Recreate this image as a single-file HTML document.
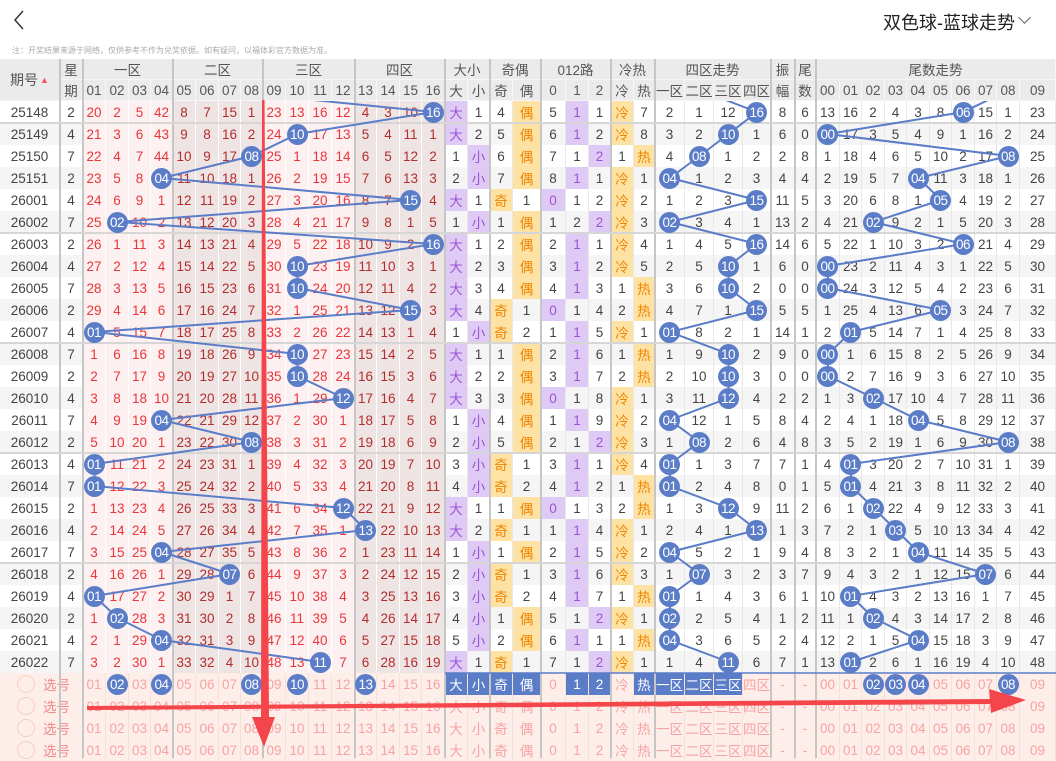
<!DOCTYPE html>
<html><head><meta charset="utf-8">
<style>
*{margin:0;padding:0;box-sizing:border-box}
body{width:1056px;height:758px;overflow:hidden;background:#fff;font-family:"Liberation Sans","Noto Sans CJK SC",sans-serif;color:#444;position:relative}
.top{position:absolute;left:0;top:0;width:1056px;height:40px}
.title{position:absolute;left:883px;top:9px;font-size:18px;color:#222}
.chev{position:absolute;left:1020px;top:13px;width:9px;height:9px;border-right:1px solid #666;border-bottom:1px solid #666;transform:rotate(45deg)}
.note{position:absolute;left:12px;top:45px;font-size:8px;color:#aaa;white-space:nowrap}
.g{display:grid;grid-template-columns:60px 23px 23px 23px 22px 22px 23px 23px 22px 22px 23px 23px 23px 23px 22px 23px 22px 23px 23px 22px 23px 28px 25px 23px 22px 23px 21px 30px 29px 29px 28px 24px 21px 24px 22px 23px 22px 23px 22px 23px 22px 23px 36px}
.hd{position:absolute;left:0;top:59px;width:1056px;grid-auto-rows:21px;background:#ebebeb;color:#555;font-size:13.5px}
.hd span{display:flex;align-items:center;justify-content:center;border-right:1px solid #f6f6f6;border-bottom:1px solid #f6f6f6;white-space:nowrap}
.hd .s2{grid-column:span 2}.hd .s3{grid-column:span 3}.hd .s4{grid-column:span 4}.hd .s10{grid-column:span 10}
.hd .rr{grid-row:span 2;font-size:14px}
.data{position:absolute;left:0;top:101px;width:1056px}
.r{height:22px}
.r i{font-style:normal;display:flex;align-items:center;justify-content:center;font-size:13.5px;border-right:1px solid #e8e8e8;background:#fff;white-space:nowrap}
.r.a i{background:#f5f5f5}
.r i:nth-child(n+3):nth-child(-n+6),.r i:nth-child(n+11):nth-child(-n+14){background:#fdf0f0;color:#e8363b;border-right-color:#fff}
.r i:nth-child(n+7):nth-child(-n+10),.r i:nth-child(n+15):nth-child(-n+18){background:#efe4e4;color:#b32d2d;border-right-color:#fff}
.r i.p{background:#dfcaf5;color:#9a55d0}
.r i.o{background:#fde2a4;color:#f08300}
b{display:block;width:21px;height:21px;border-radius:50%;background:#5b7dc8;color:#fff;font-weight:normal;font-size:13.5px;line-height:21px;text-align:center;position:relative;z-index:3;letter-spacing:-.5px}
.sel{position:absolute;left:0;top:673px;width:1056px}
.s{height:22px}
.s i{font-style:normal;display:flex;align-items:center;justify-content:center;font-size:13.5px;background:#fdeee9;color:#f7a3a3;border-right:1px solid #f6e0da;white-space:nowrap}
.s i.f{grid-column:span 2;justify-content:flex-start;padding-left:17px;color:#f08a8a}
.s i.f:before{content:"";display:inline-block;width:16px;height:16px;border:1px solid #f9cfc6;border-radius:50%;margin-right:8px}
.s i.k{background:#5b7dc8;color:#fff}
svg{position:absolute;left:0;top:0}
</style></head><body>
<div class="top"><svg width="40" height="40" style="position:absolute;left:0;top:0"><polyline points="23,11 15,20 23,29" fill="none" stroke="#333" stroke-width="1.5"/></svg><div class="title">双色球-蓝球走势</div><div class="chev"></div></div>
<div class="note">注：开奖结果来源于网络，仅供参考不作为兑奖依据。如有疑问，以福体彩官方数据为准。</div>

<div class="g hd">
<span class="rr">期号<span style="border:0;color:#e55;font-size:9px;margin-left:2px">▲</span></span><span>星</span><span class="s4">一区</span><span class="s4">二区</span><span class="s4">三区</span><span class="s4">四区</span><span class="s2">大小</span><span class="s2">奇偶</span><span class="s3">012路</span><span class="s2">冷热</span><span class="s4">四区走势</span><span>振</span><span>尾</span><span class="s10">尾数走势</span>
<span>期</span><span>01</span><span>02</span><span>03</span><span>04</span><span>05</span><span>06</span><span>07</span><span>08</span><span>09</span><span>10</span><span>11</span><span>12</span><span>13</span><span>14</span><span>15</span><span>16</span><span>大</span><span>小</span><span>奇</span><span>偶</span><span>0</span><span>1</span><span>2</span><span>冷</span><span>热</span><span>一区</span><span>二区</span><span>三区</span><span>四区</span><span>幅</span><span>数</span><span>00</span><span>01</span><span>02</span><span>03</span><span>04</span><span>05</span><span>06</span><span>07</span><span>08</span><span>09</span>
</div>

<div class="data">
<div class="g r"><i>25148</i><i>2</i><i>20</i><i>2</i><i>5</i><i>42</i><i>8</i><i>7</i><i>15</i><i>1</i><i>23</i><i>13</i><i>16</i><i>12</i><i>4</i><i>3</i><i>10</i><i><b>16</b></i><i class=p>大</i><i>1</i><i>4</i><i class=o>偶</i><i>5</i><i class=p>1</i><i>1</i><i class=o>冷</i><i>7</i><i>2</i><i>1</i><i>12</i><i><b>16</b></i><i>8</i><i>6</i><i>13</i><i>16</i><i>2</i><i>4</i><i>3</i><i>8</i><i><b>06</b></i><i>15</i><i>1</i><i>23</i></div>
<div class="g r a"><i>25149</i><i>4</i><i>21</i><i>3</i><i>6</i><i>43</i><i>9</i><i>8</i><i>16</i><i>2</i><i>24</i><i><b>10</b></i><i>17</i><i>13</i><i>5</i><i>4</i><i>11</i><i>1</i><i class=p>大</i><i>2</i><i>5</i><i class=o>偶</i><i>6</i><i class=p>1</i><i>2</i><i class=o>冷</i><i>8</i><i>3</i><i>2</i><i><b>10</b></i><i>1</i><i>6</i><i>0</i><i><b>00</b></i><i>17</i><i>3</i><i>5</i><i>4</i><i>9</i><i>1</i><i>16</i><i>2</i><i>24</i></div>
<div class="g r"><i>25150</i><i>7</i><i>22</i><i>4</i><i>7</i><i>44</i><i>10</i><i>9</i><i>17</i><i><b>08</b></i><i>25</i><i>1</i><i>18</i><i>14</i><i>6</i><i>5</i><i>12</i><i>2</i><i>1</i><i class=p>小</i><i>6</i><i class=o>偶</i><i>7</i><i>1</i><i class=p>2</i><i>1</i><i class=o>热</i><i>4</i><i><b>08</b></i><i>1</i><i>2</i><i>2</i><i>8</i><i>1</i><i>18</i><i>4</i><i>6</i><i>5</i><i>10</i><i>2</i><i>17</i><i><b>08</b></i><i>25</i></div>
<div class="g r a"><i>25151</i><i>2</i><i>23</i><i>5</i><i>8</i><i><b>04</b></i><i>11</i><i>10</i><i>18</i><i>1</i><i>26</i><i>2</i><i>19</i><i>15</i><i>7</i><i>6</i><i>13</i><i>3</i><i>2</i><i class=p>小</i><i>7</i><i class=o>偶</i><i>8</i><i class=p>1</i><i>1</i><i class=o>冷</i><i>1</i><i><b>04</b></i><i>1</i><i>2</i><i>3</i><i>4</i><i>4</i><i>2</i><i>19</i><i>5</i><i>7</i><i><b>04</b></i><i>11</i><i>3</i><i>18</i><i>1</i><i>26</i></div>
<div class="g r"><i>26001</i><i>4</i><i>24</i><i>6</i><i>9</i><i>1</i><i>12</i><i>11</i><i>19</i><i>2</i><i>27</i><i>3</i><i>20</i><i>16</i><i>8</i><i>7</i><i><b>15</b></i><i>4</i><i class=p>大</i><i>1</i><i class=o>奇</i><i>1</i><i class=p>0</i><i>1</i><i>2</i><i class=o>冷</i><i>2</i><i>1</i><i>2</i><i>3</i><i><b>15</b></i><i>11</i><i>5</i><i>3</i><i>20</i><i>6</i><i>8</i><i>1</i><i><b>05</b></i><i>4</i><i>19</i><i>2</i><i>27</i></div>
<div class="g r a"><i>26002</i><i>7</i><i>25</i><i><b>02</b></i><i>10</i><i>2</i><i>13</i><i>12</i><i>20</i><i>3</i><i>28</i><i>4</i><i>21</i><i>17</i><i>9</i><i>8</i><i>1</i><i>5</i><i>1</i><i class=p>小</i><i>1</i><i class=o>偶</i><i>1</i><i>2</i><i class=p>2</i><i class=o>冷</i><i>3</i><i><b>02</b></i><i>3</i><i>4</i><i>1</i><i>13</i><i>2</i><i>4</i><i>21</i><i><b>02</b></i><i>9</i><i>2</i><i>1</i><i>5</i><i>20</i><i>3</i><i>28</i></div>
<div class="g r"><i>26003</i><i>2</i><i>26</i><i>1</i><i>11</i><i>3</i><i>14</i><i>13</i><i>21</i><i>4</i><i>29</i><i>5</i><i>22</i><i>18</i><i>10</i><i>9</i><i>2</i><i><b>16</b></i><i class=p>大</i><i>1</i><i>2</i><i class=o>偶</i><i>2</i><i class=p>1</i><i>1</i><i class=o>冷</i><i>4</i><i>1</i><i>4</i><i>5</i><i><b>16</b></i><i>14</i><i>6</i><i>5</i><i>22</i><i>1</i><i>10</i><i>3</i><i>2</i><i><b>06</b></i><i>21</i><i>4</i><i>29</i></div>
<div class="g r a"><i>26004</i><i>4</i><i>27</i><i>2</i><i>12</i><i>4</i><i>15</i><i>14</i><i>22</i><i>5</i><i>30</i><i><b>10</b></i><i>23</i><i>19</i><i>11</i><i>10</i><i>3</i><i>1</i><i class=p>大</i><i>2</i><i>3</i><i class=o>偶</i><i>3</i><i class=p>1</i><i>2</i><i class=o>冷</i><i>5</i><i>2</i><i>5</i><i><b>10</b></i><i>1</i><i>6</i><i>0</i><i><b>00</b></i><i>23</i><i>2</i><i>11</i><i>4</i><i>3</i><i>1</i><i>22</i><i>5</i><i>30</i></div>
<div class="g r"><i>26005</i><i>7</i><i>28</i><i>3</i><i>13</i><i>5</i><i>16</i><i>15</i><i>23</i><i>6</i><i>31</i><i><b>10</b></i><i>24</i><i>20</i><i>12</i><i>11</i><i>4</i><i>2</i><i class=p>大</i><i>3</i><i>4</i><i class=o>偶</i><i>4</i><i class=p>1</i><i>3</i><i>1</i><i class=o>热</i><i>3</i><i>6</i><i><b>10</b></i><i>2</i><i>0</i><i>0</i><i><b>00</b></i><i>24</i><i>3</i><i>12</i><i>5</i><i>4</i><i>2</i><i>23</i><i>6</i><i>31</i></div>
<div class="g r a"><i>26006</i><i>2</i><i>29</i><i>4</i><i>14</i><i>6</i><i>17</i><i>16</i><i>24</i><i>7</i><i>32</i><i>1</i><i>25</i><i>21</i><i>13</i><i>12</i><i><b>15</b></i><i>3</i><i class=p>大</i><i>4</i><i class=o>奇</i><i>1</i><i class=p>0</i><i>1</i><i>4</i><i>2</i><i class=o>热</i><i>4</i><i>7</i><i>1</i><i><b>15</b></i><i>5</i><i>5</i><i>1</i><i>25</i><i>4</i><i>13</i><i>6</i><i><b>05</b></i><i>3</i><i>24</i><i>7</i><i>32</i></div>
<div class="g r"><i>26007</i><i>4</i><i><b>01</b></i><i>5</i><i>15</i><i>7</i><i>18</i><i>17</i><i>25</i><i>8</i><i>33</i><i>2</i><i>26</i><i>22</i><i>14</i><i>13</i><i>1</i><i>4</i><i>1</i><i class=p>小</i><i class=o>奇</i><i>2</i><i>1</i><i class=p>1</i><i>5</i><i class=o>冷</i><i>1</i><i><b>01</b></i><i>8</i><i>2</i><i>1</i><i>14</i><i>1</i><i>2</i><i><b>01</b></i><i>5</i><i>14</i><i>7</i><i>1</i><i>4</i><i>25</i><i>8</i><i>33</i></div>
<div class="g r a"><i>26008</i><i>7</i><i>1</i><i>6</i><i>16</i><i>8</i><i>19</i><i>18</i><i>26</i><i>9</i><i>34</i><i><b>10</b></i><i>27</i><i>23</i><i>15</i><i>14</i><i>2</i><i>5</i><i class=p>大</i><i>1</i><i>1</i><i class=o>偶</i><i>2</i><i class=p>1</i><i>6</i><i>1</i><i class=o>热</i><i>1</i><i>9</i><i><b>10</b></i><i>2</i><i>9</i><i>0</i><i><b>00</b></i><i>1</i><i>6</i><i>15</i><i>8</i><i>2</i><i>5</i><i>26</i><i>9</i><i>34</i></div>
<div class="g r"><i>26009</i><i>2</i><i>2</i><i>7</i><i>17</i><i>9</i><i>20</i><i>19</i><i>27</i><i>10</i><i>35</i><i><b>10</b></i><i>28</i><i>24</i><i>16</i><i>15</i><i>3</i><i>6</i><i class=p>大</i><i>2</i><i>2</i><i class=o>偶</i><i>3</i><i class=p>1</i><i>7</i><i>2</i><i class=o>热</i><i>2</i><i>10</i><i><b>10</b></i><i>3</i><i>0</i><i>0</i><i><b>00</b></i><i>2</i><i>7</i><i>16</i><i>9</i><i>3</i><i>6</i><i>27</i><i>10</i><i>35</i></div>
<div class="g r a"><i>26010</i><i>4</i><i>3</i><i>8</i><i>18</i><i>10</i><i>21</i><i>20</i><i>28</i><i>11</i><i>36</i><i>1</i><i>29</i><i><b>12</b></i><i>17</i><i>16</i><i>4</i><i>7</i><i class=p>大</i><i>3</i><i>3</i><i class=o>偶</i><i class=p>0</i><i>1</i><i>8</i><i class=o>冷</i><i>1</i><i>3</i><i>11</i><i><b>12</b></i><i>4</i><i>2</i><i>2</i><i>1</i><i>3</i><i><b>02</b></i><i>17</i><i>10</i><i>4</i><i>7</i><i>28</i><i>11</i><i>36</i></div>
<div class="g r"><i>26011</i><i>7</i><i>4</i><i>9</i><i>19</i><i><b>04</b></i><i>22</i><i>21</i><i>29</i><i>12</i><i>37</i><i>2</i><i>30</i><i>1</i><i>18</i><i>17</i><i>5</i><i>8</i><i>1</i><i class=p>小</i><i>4</i><i class=o>偶</i><i>1</i><i class=p>1</i><i>9</i><i class=o>冷</i><i>2</i><i><b>04</b></i><i>12</i><i>1</i><i>5</i><i>8</i><i>4</i><i>2</i><i>4</i><i>1</i><i>18</i><i><b>04</b></i><i>5</i><i>8</i><i>29</i><i>12</i><i>37</i></div>
<div class="g r a"><i>26012</i><i>2</i><i>5</i><i>10</i><i>20</i><i>1</i><i>23</i><i>22</i><i>30</i><i><b>08</b></i><i>38</i><i>3</i><i>31</i><i>2</i><i>19</i><i>18</i><i>6</i><i>9</i><i>2</i><i class=p>小</i><i>5</i><i class=o>偶</i><i>2</i><i>1</i><i class=p>2</i><i class=o>冷</i><i>3</i><i>1</i><i><b>08</b></i><i>2</i><i>6</i><i>4</i><i>8</i><i>3</i><i>5</i><i>2</i><i>19</i><i>1</i><i>6</i><i>9</i><i>30</i><i><b>08</b></i><i>38</i></div>
<div class="g r"><i>26013</i><i>4</i><i><b>01</b></i><i>11</i><i>21</i><i>2</i><i>24</i><i>23</i><i>31</i><i>1</i><i>39</i><i>4</i><i>32</i><i>3</i><i>20</i><i>19</i><i>7</i><i>10</i><i>3</i><i class=p>小</i><i class=o>奇</i><i>1</i><i>3</i><i class=p>1</i><i>1</i><i class=o>冷</i><i>4</i><i><b>01</b></i><i>1</i><i>3</i><i>7</i><i>7</i><i>1</i><i>4</i><i><b>01</b></i><i>3</i><i>20</i><i>2</i><i>7</i><i>10</i><i>31</i><i>1</i><i>39</i></div>
<div class="g r a"><i>26014</i><i>7</i><i><b>01</b></i><i>12</i><i>22</i><i>3</i><i>25</i><i>24</i><i>32</i><i>2</i><i>40</i><i>5</i><i>33</i><i>4</i><i>21</i><i>20</i><i>8</i><i>11</i><i>4</i><i class=p>小</i><i class=o>奇</i><i>2</i><i>4</i><i class=p>1</i><i>2</i><i>1</i><i class=o>热</i><i><b>01</b></i><i>2</i><i>4</i><i>8</i><i>0</i><i>1</i><i>5</i><i><b>01</b></i><i>4</i><i>21</i><i>3</i><i>8</i><i>11</i><i>32</i><i>2</i><i>40</i></div>
<div class="g r"><i>26015</i><i>2</i><i>1</i><i>13</i><i>23</i><i>4</i><i>26</i><i>25</i><i>33</i><i>3</i><i>41</i><i>6</i><i>34</i><i><b>12</b></i><i>22</i><i>21</i><i>9</i><i>12</i><i class=p>大</i><i>1</i><i>1</i><i class=o>偶</i><i class=p>0</i><i>1</i><i>3</i><i>2</i><i class=o>热</i><i>1</i><i>3</i><i><b>12</b></i><i>9</i><i>11</i><i>2</i><i>6</i><i>1</i><i><b>02</b></i><i>22</i><i>4</i><i>9</i><i>12</i><i>33</i><i>3</i><i>41</i></div>
<div class="g r a"><i>26016</i><i>4</i><i>2</i><i>14</i><i>24</i><i>5</i><i>27</i><i>26</i><i>34</i><i>4</i><i>42</i><i>7</i><i>35</i><i>1</i><i><b>13</b></i><i>22</i><i>10</i><i>13</i><i class=p>大</i><i>2</i><i class=o>奇</i><i>1</i><i>1</i><i class=p>1</i><i>4</i><i class=o>冷</i><i>1</i><i>2</i><i>4</i><i>1</i><i><b>13</b></i><i>1</i><i>3</i><i>7</i><i>2</i><i>1</i><i><b>03</b></i><i>5</i><i>10</i><i>13</i><i>34</i><i>4</i><i>42</i></div>
<div class="g r"><i>26017</i><i>7</i><i>3</i><i>15</i><i>25</i><i><b>04</b></i><i>28</i><i>27</i><i>35</i><i>5</i><i>43</i><i>8</i><i>36</i><i>2</i><i>1</i><i>23</i><i>11</i><i>14</i><i>1</i><i class=p>小</i><i>1</i><i class=o>偶</i><i>2</i><i class=p>1</i><i>5</i><i class=o>冷</i><i>2</i><i><b>04</b></i><i>5</i><i>2</i><i>1</i><i>9</i><i>4</i><i>8</i><i>3</i><i>2</i><i>1</i><i><b>04</b></i><i>11</i><i>14</i><i>35</i><i>5</i><i>43</i></div>
<div class="g r a"><i>26018</i><i>2</i><i>4</i><i>16</i><i>26</i><i>1</i><i>29</i><i>28</i><i><b>07</b></i><i>6</i><i>44</i><i>9</i><i>37</i><i>3</i><i>2</i><i>24</i><i>12</i><i>15</i><i>2</i><i class=p>小</i><i class=o>奇</i><i>1</i><i>3</i><i class=p>1</i><i>6</i><i class=o>冷</i><i>3</i><i>1</i><i><b>07</b></i><i>3</i><i>2</i><i>3</i><i>7</i><i>9</i><i>4</i><i>3</i><i>2</i><i>1</i><i>12</i><i>15</i><i><b>07</b></i><i>6</i><i>44</i></div>
<div class="g r"><i>26019</i><i>4</i><i><b>01</b></i><i>17</i><i>27</i><i>2</i><i>30</i><i>29</i><i>1</i><i>7</i><i>45</i><i>10</i><i>38</i><i>4</i><i>3</i><i>25</i><i>13</i><i>16</i><i>3</i><i class=p>小</i><i class=o>奇</i><i>2</i><i>4</i><i class=p>1</i><i>7</i><i>1</i><i class=o>热</i><i><b>01</b></i><i>1</i><i>4</i><i>3</i><i>6</i><i>1</i><i>10</i><i><b>01</b></i><i>4</i><i>3</i><i>2</i><i>13</i><i>16</i><i>1</i><i>7</i><i>45</i></div>
<div class="g r a"><i>26020</i><i>2</i><i>1</i><i><b>02</b></i><i>28</i><i>3</i><i>31</i><i>30</i><i>2</i><i>8</i><i>46</i><i>11</i><i>39</i><i>5</i><i>4</i><i>26</i><i>14</i><i>17</i><i>4</i><i class=p>小</i><i>1</i><i class=o>偶</i><i>5</i><i>1</i><i class=p>2</i><i class=o>冷</i><i>1</i><i><b>02</b></i><i>2</i><i>5</i><i>4</i><i>1</i><i>2</i><i>11</i><i>1</i><i><b>02</b></i><i>4</i><i>3</i><i>14</i><i>17</i><i>2</i><i>8</i><i>46</i></div>
<div class="g r"><i>26021</i><i>4</i><i>2</i><i>1</i><i>29</i><i><b>04</b></i><i>32</i><i>31</i><i>3</i><i>9</i><i>47</i><i>12</i><i>40</i><i>6</i><i>5</i><i>27</i><i>15</i><i>18</i><i>5</i><i class=p>小</i><i>2</i><i class=o>偶</i><i>6</i><i class=p>1</i><i>1</i><i>1</i><i class=o>热</i><i><b>04</b></i><i>3</i><i>6</i><i>5</i><i>2</i><i>4</i><i>12</i><i>2</i><i>1</i><i>5</i><i><b>04</b></i><i>15</i><i>18</i><i>3</i><i>9</i><i>47</i></div>
<div class="g r a"><i>26022</i><i>7</i><i>3</i><i>2</i><i>30</i><i>1</i><i>33</i><i>32</i><i>4</i><i>10</i><i>48</i><i>13</i><i><b>11</b></i><i>7</i><i>6</i><i>28</i><i>16</i><i>19</i><i class=p>大</i><i>1</i><i class=o>奇</i><i>1</i><i>7</i><i>1</i><i class=p>2</i><i class=o>冷</i><i>1</i><i>1</i><i>4</i><i><b>11</b></i><i>6</i><i>7</i><i>1</i><i>13</i><i><b>01</b></i><i>2</i><i>6</i><i>1</i><i>16</i><i>19</i><i>4</i><i>10</i><i>48</i></div>
</div>

<div class="sel">
<div class="g s"><i class=f>选号</i><i>01</i><i><b>02</b></i><i>03</i><i><b>04</b></i><i>05</i><i>06</i><i>07</i><i><b>08</b></i><i>09</i><i><b>10</b></i><i>11</i><i>12</i><i><b>13</b></i><i>14</i><i>15</i><i>16</i><i class=k>大</i><i class=k>小</i><i class=k>奇</i><i class=k>偶</i><i>0</i><i class=k>1</i><i class=k>2</i><i>冷</i><i class=k>热</i><i class=k>一区</i><i class=k>二区</i><i class=k>三区</i><i>四区</i><i>-</i><i>-</i><i>00</i><i>01</i><i><b>02</b></i><i><b>03</b></i><i><b>04</b></i><i>05</i><i>06</i><i>07</i><i><b>08</b></i><i>09</i></div>
<div class="g s"><i class=f>选号</i><i>01</i><i>02</i><i>03</i><i>04</i><i>05</i><i>06</i><i>07</i><i>08</i><i>09</i><i>10</i><i>11</i><i>12</i><i>13</i><i>14</i><i>15</i><i>16</i><i>大</i><i>小</i><i>奇</i><i>偶</i><i>0</i><i>1</i><i>2</i><i>冷</i><i>热</i><i>一区</i><i>二区</i><i>三区</i><i>四区</i><i>-</i><i>-</i><i>00</i><i>01</i><i>02</i><i>03</i><i>04</i><i>05</i><i>06</i><i>07</i><i>08</i><i>09</i></div>
<div class="g s"><i class=f>选号</i><i>01</i><i>02</i><i>03</i><i>04</i><i>05</i><i>06</i><i>07</i><i>08</i><i>09</i><i>10</i><i>11</i><i>12</i><i>13</i><i>14</i><i>15</i><i>16</i><i>大</i><i>小</i><i>奇</i><i>偶</i><i>0</i><i>1</i><i>2</i><i>冷</i><i>热</i><i>一区</i><i>二区</i><i>三区</i><i>四区</i><i>-</i><i>-</i><i>00</i><i>01</i><i>02</i><i>03</i><i>04</i><i>05</i><i>06</i><i>07</i><i>08</i><i>09</i></div>
<div class="g s"><i class=f>选号</i><i>01</i><i>02</i><i>03</i><i>04</i><i>05</i><i>06</i><i>07</i><i>08</i><i>09</i><i>10</i><i>11</i><i>12</i><i>13</i><i>14</i><i>15</i><i>16</i><i>大</i><i>小</i><i>奇</i><i>偶</i><i>0</i><i>1</i><i>2</i><i>冷</i><i>热</i><i>一区</i><i>二区</i><i>三区</i><i>四区</i><i>-</i><i>-</i><i>00</i><i>01</i><i>02</i><i>03</i><i>04</i><i>05</i><i>06</i><i>07</i><i>08</i><i>09</i></div>
</div>

<svg width="1056" height="758" style="z-index:2;pointer-events:none">
<defs><clipPath id="c"><rect x="0" y="101" width="1056" height="572"/></clipPath></defs>
<g stroke="#c6c6c6" stroke-width="2">
<line x1="60" y1="59" x2="60" y2="758"/><line x1="83" y1="59" x2="83" y2="758"/><line x1="173" y1="59" x2="173" y2="758"/><line x1="263" y1="59" x2="263" y2="758"/><line x1="355" y1="59" x2="355" y2="758"/><line x1="445" y1="59" x2="445" y2="758"/><line x1="490" y1="59" x2="490" y2="758"/><line x1="541" y1="59" x2="541" y2="758"/><line x1="611" y1="59" x2="611" y2="758"/><line x1="655" y1="59" x2="655" y2="758"/><line x1="771" y1="59" x2="771" y2="758"/><line x1="795" y1="59" x2="795" y2="758"/><line x1="816" y1="59" x2="816" y2="758"/>
</g>
<g stroke="#d6d6d6" stroke-width="2">
<line x1="0" y1="123" x2="1056" y2="123"/><line x1="0" y1="233" x2="1056" y2="233"/><line x1="0" y1="343" x2="1056" y2="343"/><line x1="0" y1="453" x2="1056" y2="453"/><line x1="0" y1="563" x2="1056" y2="563"/>
</g>
<line x1="445" y1="673" x2="1056" y2="673" stroke="#5b7dc8" stroke-width="1.5"/>
<g clip-path="url(#c)" fill="none" stroke="#5b7dc8" stroke-width="2">
<polyline points="213,90 433.5,112 297.5,134 252,156 162,178 411,200 117.5,222 433.5,244 297.5,266 297.5,288 411,310 94.5,332 297.5,354 297.5,376 343.5,398 162,420 252,442 94.5,464 94.5,486 343.5,508 366,530 162,552 230,574 94.5,596 117.5,618 162,640 320.5,662"/>
<polyline points="699.5,90 757,112 728.5,134 699.5,156 670,178 757,200 670,222 757,244 728.5,266 728.5,288 757,310 670,332 728.5,354 728.5,376 728.5,398 670,420 699.5,442 670,464 670,486 728.5,508 757,530 670,552 699.5,574 670,596 670,618 670,640 728.5,662"/>
<polyline points="1008.5,90 963.5,112 828,134 1008.5,156 918.5,178 941,200 873.5,222 963.5,244 828,266 828,288 941,310 851,332 828,354 828,376 873.5,398 918.5,420 1008.5,442 851,464 851,486 873.5,508 896,530 918.5,552 986,574 851,596 873.5,618 918.5,640 851,662"/>
</g>
</svg>
<svg width="1056" height="758" style="z-index:4;pointer-events:none">
<polygon points="262,100 264.5,100 269,718 261,718" fill="#f4454a"/>
<polygon points="252,717 275,717 264,747" fill="#f4454a"/>
<polygon points="87,706 87,710 993,704 993,699" fill="#f4454a"/>
<polygon points="989,689 1026,700 991,713" fill="#f4454a"/>
</svg>
</body></html>
